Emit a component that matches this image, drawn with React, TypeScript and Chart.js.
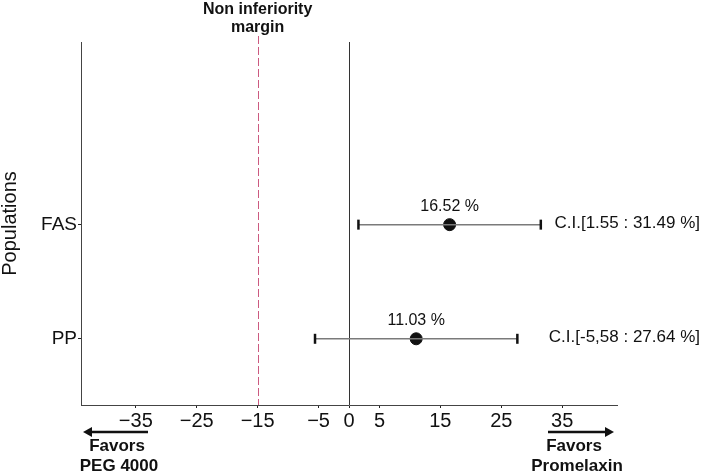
import React, { useEffect, useRef } from "react";
import { Chart, registerables } from "chart.js";

Chart.register(...registerables);

const categories = ["FAS", "PP"];
const estimates = [16.52, 11.03];
const ciLow = [1.55, -5.58];
const ciHigh = [31.49, 27.64];
const estimateLabels = ["16.52 %", "11.03 %"];
const ciLabels = ["C.I.[1.55 : 31.49 %]", "C.I.[-5,58 : 27.64 %]"];
const xTicks = [-35, -25, -15, -5, 0, 5, 15, 25, 35];
const marginValue = -15;
const marginTitle = ["Non inferiority", "margin"];
const leftNote = ["Favors", "PEG 4000"];
const rightNote = ["Favors", "Promelaxin"];

const FONT = "'Liberation Sans', Arial, sans-serif";

const yPos = (i: number) => categories.length - i;

function arrow(ctx: CanvasRenderingContext2D, x1: number, x2: number, y: number) {
  const dir = x2 > x1 ? 1 : -1;
  ctx.save();
  ctx.strokeStyle = "#111";
  ctx.fillStyle = "#111";
  ctx.lineWidth = 2.5;
  ctx.beginPath();
  ctx.moveTo(x1, y);
  ctx.lineTo(x2 - dir * 6, y);
  ctx.stroke();
  ctx.beginPath();
  ctx.moveTo(x2, y);
  ctx.lineTo(x2 - dir * 9, y - 5);
  ctx.lineTo(x2 - dir * 9, y + 5);
  ctx.closePath();
  ctx.fill();
  ctx.restore();
}

const annotPlugin = {
  id: "annot",
  beforeDatasetsDraw(chart: any) {
    const { ctx, chartArea, scales } = chart;
    const x = scales.x;
    ctx.save();
    const x0 = Math.round(x.getPixelForValue(0)) + 0.5;
    ctx.strokeStyle = "#333";
    ctx.lineWidth = 1;
    ctx.beginPath();
    ctx.moveTo(x0, chartArea.top);
    ctx.lineTo(x0, chartArea.bottom);
    ctx.stroke();
    const xm = Math.round(x.getPixelForValue(marginValue)) + 0.5;
    ctx.strokeStyle = "#cc5a80";
    ctx.lineWidth = 1;
    ctx.setLineDash([8, 3]);
    ctx.beginPath();
    ctx.moveTo(xm, chartArea.top - 6);
    ctx.lineTo(xm, chartArea.bottom);
    ctx.stroke();
    ctx.restore();
  },
  afterDatasetsDraw(chart: any) {
    const { ctx, chartArea, scales } = chart;
    const x = scales.x;
    const y = scales.y;
    ctx.save();
    ctx.fillStyle = "#111";
    ctx.textBaseline = "middle";
    categories.forEach((_, i) => {
      const py = y.getPixelForValue(yPos(i));
      ctx.font = `16px ${FONT}`;
      ctx.textAlign = "center";
      ctx.fillText(estimateLabels[i], x.getPixelForValue(estimates[i]), py - 18);
      ctx.font = `17px ${FONT}`;
      ctx.textAlign = "right";
      ctx.fillText(ciLabels[i], chartArea.right + 83, py - 1);
    });
    ctx.restore();
  },
  afterDraw(chart: any) {
    const { ctx, chartArea, scales } = chart;
    const x = scales.x;
    ctx.save();
    ctx.fillStyle = "#111";
    ctx.textAlign = "center";
    ctx.textBaseline = "middle";
    ctx.font = `bold 16px ${FONT}`;
    const xm = x.getPixelForValue(marginValue);
    ctx.fillText(marginTitle[0], xm, 10);
    ctx.fillText(marginTitle[1], xm, 28);
    const b = chartArea.bottom;
    ctx.font = `bold 17px ${FONT}`;
    arrow(ctx, chartArea.left + 67, chartArea.left + 2, b + 27);
    ctx.fillText(leftNote[0], chartArea.left + 36, b + 41);
    ctx.fillText(leftNote[1], chartArea.left + 38, b + 61);
    arrow(ctx, chartArea.right - 69, chartArea.right - 3, b + 27);
    ctx.fillText(rightNote[0], chartArea.right - 43, b + 41);
    ctx.fillText(rightNote[1], chartArea.right - 40, b + 61);
    ctx.restore();
  },
};

export default function App() {
  const ref = useRef<HTMLCanvasElement | null>(null);
  useEffect(() => {
    if (!ref.current) return;
    const datasets: any[] = [];
    categories.forEach((_, i) => {
      datasets.push({
        type: "line",
        data: [
          { x: ciLow[i], y: yPos(i) },
          { x: ciHigh[i], y: yPos(i) },
        ],
        borderColor: "#7a7a7a",
        borderWidth: 1.5,
        pointStyle: "line",
        rotation: 90,
        pointRadius: 5,
        pointBorderWidth: 2.5,
        pointBorderColor: "#111",
        pointHoverRadius: 5,
        showLine: true,
        fill: false,
      });
    });
    datasets.push({
      type: "scatter",
      data: categories.map((_, i) => ({ x: estimates[i], y: yPos(i) })),
      backgroundColor: "#111",
      borderColor: "#111",
      pointRadius: 6,
      pointHoverRadius: 6,
    });
    const chart = new Chart(ref.current, {
      type: "scatter",
      data: { datasets },
      plugins: [annotPlugin],
      options: {
        animation: false,
        responsive: true,
        maintainAspectRatio: false,
        layout: { padding: { top: 42, right: 91, left: 0, bottom: 0 } },
        plugins: { legend: { display: false }, tooltip: { enabled: false } },
        scales: {
          x: {
            type: "linear",
            min: -44,
            max: 44,
            afterBuildTicks: (s: any) => {
              s.ticks = xTicks.map((v) => ({ value: v }));
            },
            afterFit: (s: any) => {
              s.height = 68;
            },
            ticks: {
              color: "#111",
              font: { family: FONT, size: 20 },
              padding: 1,
              autoSkip: false,
              maxRotation: 0,
              callback: (v: any) => (v < 0 ? "\u2212" + Math.abs(v) : String(v)),
            },
            grid: { drawOnChartArea: false, drawTicks: true, tickLength: 3, color: "#222" },
            border: { display: true, color: "#444", width: 1 },
          },
          y: {
            type: "linear",
            min: 0.42,
            max: 3.6,
            afterBuildTicks: (s: any) => {
              s.ticks = categories.map((_, i) => ({ value: yPos(i) }));
            },
            afterFit: (s: any) => {
              s.width = 81;
            },
            ticks: {
              color: "#111",
              font: { family: FONT, size: 19 },
              padding: 1,
              callback: (v: any) => categories[categories.length - v] ?? "",
            },
            grid: { drawOnChartArea: false, drawTicks: true, tickLength: 3, color: "#222" },
            border: { display: true, color: "#444", width: 1 },
            title: {
              display: true,
              text: "Populations",
              color: "#111",
              font: { family: FONT, size: 20, lineHeight: 1 },
              padding: 0,
            },
          },
        },
      },
    });
    return () => chart.destroy();
  }, []);
  return (
    <div style={{ position: "fixed", left: 0, top: 0, width: 708, height: 473, background: "#fff" }}>
      <canvas ref={ref} />
    </div>
  );
}
